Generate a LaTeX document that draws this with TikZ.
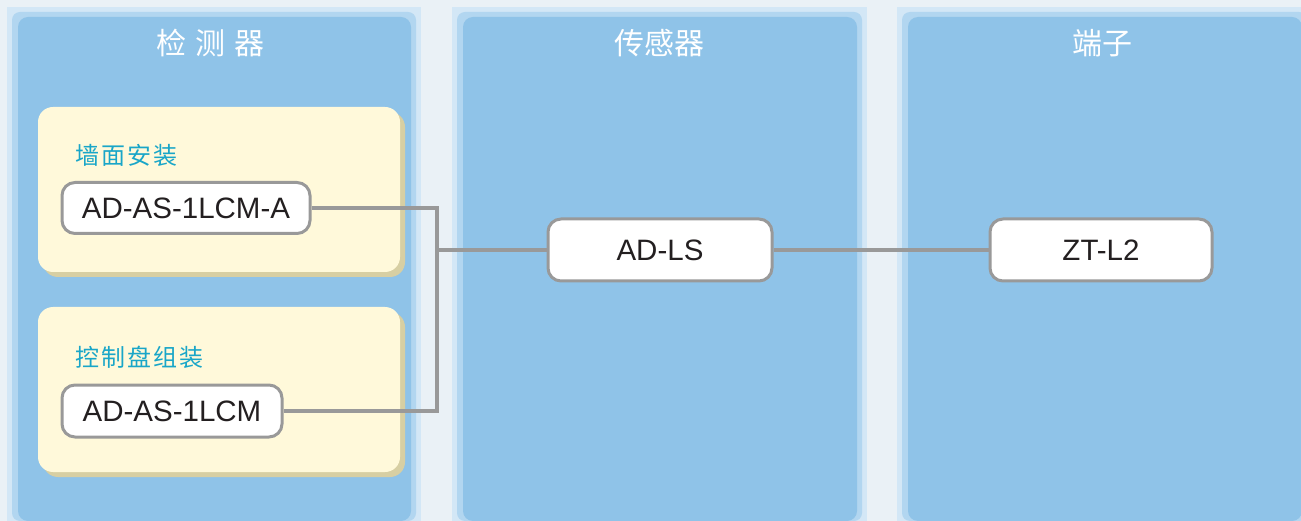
\documentclass[tikz,border=0pt]{standalone}
\usepackage{fontspec}
\setmainfont{Liberation Sans}
\newfontfamily\cjk{Noto Sans CJK SC}
\definecolor{bgc}{HTML}{EAF1F6}
\definecolor{glowa}{HTML}{D3E7F6}
\definecolor{glowb}{HTML}{B2D6F0}
\definecolor{panelc}{HTML}{8FC3E8}
\definecolor{yellowc}{HTML}{FFF9DA}
\definecolor{yshadow}{HTML}{D7CFA3}
\definecolor{linec}{HTML}{999999}
\definecolor{labelc}{HTML}{19A6C8}
\definecolor{textc}{HTML}{231F20}
\tikzset{
  panel title/.style={text=white, font=\cjk\fontsize{30}{34}\selectfont, inner sep=0pt},
  group label/.style={text=labelc, font=\cjk\fontsize{24}{28}\selectfont, anchor=west, inner sep=0pt},
  part/.style={draw=linec, line width=3pt, fill=white, rounded corners=13pt, text=textc,
    font=\fontsize{29.5}{33}\selectfont, inner sep=0pt},
  wire/.style={draw=linec, line width=4pt},
}
\newcommand{\drawpanel}[2]{%
  \fill[glowa] (#1,7) rectangle (#2,521);
  \fill[glowb, rounded corners=8pt] ({#1+5},12) rectangle ({#2-5},521);
  \fill[panelc, rounded corners=10pt] ({#1+11},17) rectangle ({#2-10},521);
}
\newcommand{\ybox}[2]{%
  \fill[yshadow, rounded corners=15pt] (43,{#1+5}) rectangle (405,{#2+5});
  \fill[yellowc, rounded corners=15pt] (38,#1) rectangle (400,#2);
}
\begin{document}
\begin{tikzpicture}[x=1pt,y=-1pt]
\useasboundingbox (0,0) rectangle (1301,521);
\fill[bgc] (0,0) rectangle (1301,521);
% panels
\drawpanel{7}{421}
\drawpanel{452}{867}
\drawpanel{897}{1312}
% titles
\node[panel title] (t1) at (210,43) {检\hspace{9pt}测\hspace{9pt}器};
\node[panel title] (t2) at (659,43) {传感器};
\node[panel title] (t3) at (1102,43) {端子};
% yellow boxes
\ybox{107}{272}
\ybox{307}{472}
\node[group label] (g1) at (75,155) {墙\hspace{2pt}面\hspace{2pt}安\hspace{2pt}装};
\node[group label] (g2) at (75,357) {控\hspace{2pt}制\hspace{2pt}盘\hspace{2pt}组\hspace{2pt}装};
% parts
\node[part, minimum width=248pt, minimum height=51pt] (a1) at (186,208) {AD-AS-1LCM-A};
\node[part, minimum width=220pt, minimum height=52pt] (a2) at (172,411) {AD-AS-1LCM};
\node[part, minimum width=224pt, minimum height=62pt] (ls) at (660,250) {AD-LS};
\node[part, minimum width=222pt, minimum height=62pt] (zt) at (1101,250) {ZT-L2};
% wires
\coordinate (jx) at (437,250);
\draw[wire] (a1.east) -- (jx |- a1.east) -- (jx |- a2.east) -- (a2.east);
\draw[wire] (jx) -- (ls.west);
\draw[wire] (ls.east) -- (zt.west);
\end{tikzpicture}
\end{document}
